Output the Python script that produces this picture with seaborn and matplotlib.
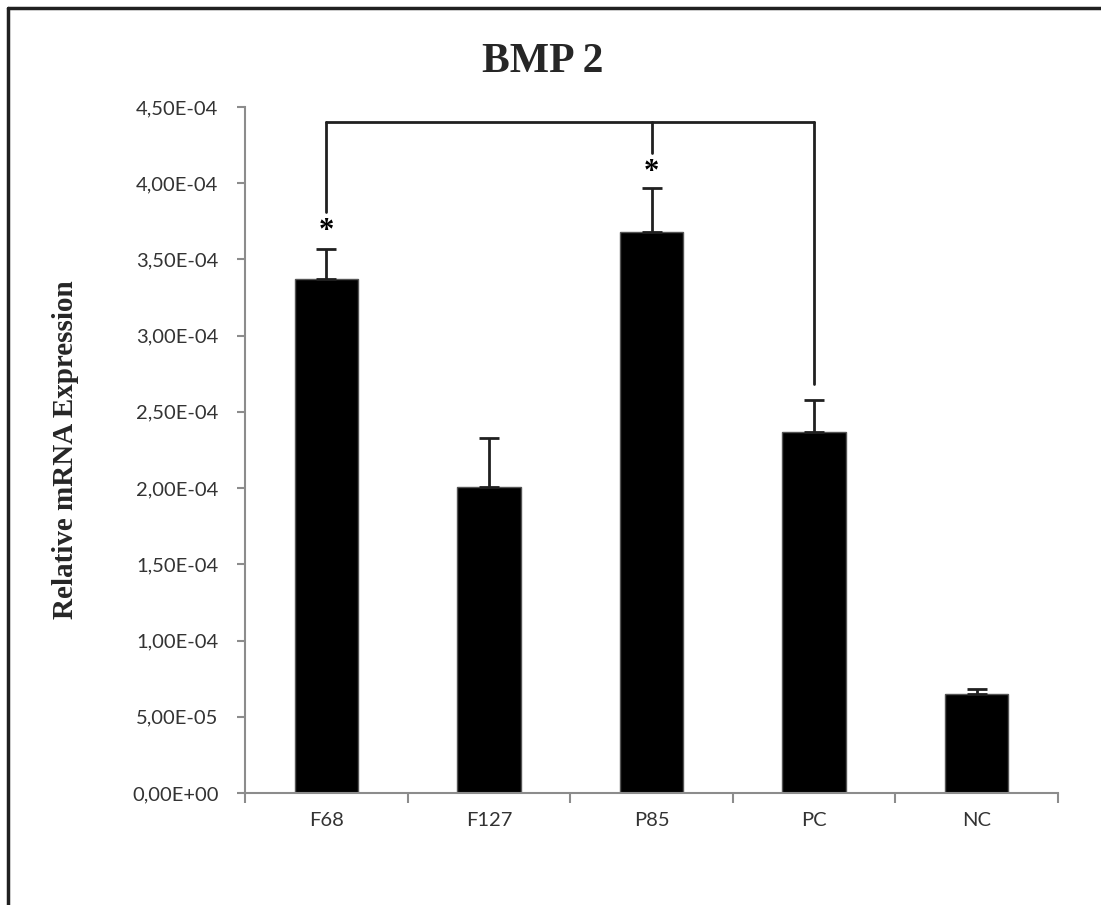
import matplotlib
matplotlib.use("Agg")
import matplotlib.pyplot as plt
import seaborn as sns
import pandas as pd
from matplotlib.lines import Line2D

# Relative BMP 2 mRNA expression per treatment group
groups = ["F68", "F127", "P85", "PC", "NC"]
means = [3.37e-4, 2.01e-4, 3.68e-4, 2.37e-4, 6.5e-5]
upper_err = [0.20e-4, 0.32e-4, 0.29e-4, 0.21e-4, 0.03e-4]

y_ticks = [0, 5e-5, 1e-4, 1.5e-4, 2e-4, 2.5e-4, 3e-4, 3.5e-4, 4e-4, 4.5e-4]
y_tick_labels = ["0,00E+00", "5,00E-05", "1,00E-04", "1,50E-04", "2,00E-04",
                 "2,50E-04", "3,00E-04", "3,50E-04", "4,00E-04", "4,50E-04"]

# Significance bracket: levels of the bar, the drops and the star marks
bracket_level = 4.40e-4
bracket_from = "F68"
bracket_to = "PC"
bracket_drops = {"F68": 3.81e-4, "P85": 4.20e-4, "PC": 2.68e-4}
star_levels = {"F68": 3.68e-4, "P85": 4.07e-4}

df = pd.DataFrame({"group": groups, "value": means})

sns.set_theme(style="white")
plt.rcParams["font.family"] = ["Lato", "DejaVu Sans"]

fig = plt.figure(figsize=(11.01, 9.05), dpi=100)
ax = fig.add_axes([0.2225, 0.1238, 0.7385, 0.758])

sns.barplot(data=df, x="group", y="value", order=groups, color="black",
            width=0.39, errorbar=None, edgecolor="#555555", linewidth=1,
            saturation=1, ax=ax)

xpos = list(range(len(groups)))
ax.errorbar(xpos, means, yerr=[[0] * len(groups), upper_err], fmt="none",
            ecolor="#202020", elinewidth=2, capsize=7, capthick=2)

ax.set_xlim(-0.5, len(groups) - 0.5)
ax.set_ylim(0, 4.5e-4)
ax.set_yticks(y_ticks)
ax.set_yticklabels(y_tick_labels)
ax.set_xlabel("")
ax.set_ylabel("Relative mRNA Expression", family=["Liberation Serif"],
              fontweight="bold", fontsize=21, labelpad=38)

for side in ("top", "right"):
    ax.spines[side].set_visible(False)
for side in ("left", "bottom"):
    ax.spines[side].set_color("#8c8c8c")
    ax.spines[side].set_linewidth(1.5)

ax.tick_params(axis="y", which="major", direction="out", length=6, width=1.5,
               color="#8c8c8c", labelsize=14.5, labelcolor="#333333", pad=13, left=True)
ax.set_xticks([x - 0.5 for x in range(len(groups) + 1)], minor=True)
ax.tick_params(axis="x", which="minor", direction="out", length=7, width=1.5,
               color="#8c8c8c", bottom=True)
ax.tick_params(axis="x", which="major", length=0, labelsize=14.5,
               labelcolor="#333333", pad=14)

# Bracket connecting the compared groups
i0, i1 = groups.index(bracket_from), groups.index(bracket_to)
ax.plot([i0, i1], [bracket_level, bracket_level], color="#202020", lw=2)
for g, lvl in bracket_drops.items():
    i = groups.index(g)
    ax.plot([i, i], [lvl, bracket_level], color="#202020", lw=2)
for g, lvl in star_levels.items():
    ax.text(groups.index(g), lvl, "*", ha="center", va="center",
            fontsize=22, fontweight="bold", family=["Liberation Serif"], color="black")

fig.text(0.493, 0.9315, "BMP 2", ha="center", va="center",
         family=["Liberation Serif"], fontweight="bold", fontsize=30)

# Outer frame: top and left borders, running off the right and bottom edges
fx = 8 / 1101
fy = 1 - 8 / 905
fig.lines.append(Line2D([fx, 1.0], [fy, fy], transform=fig.transFigure,
                        color="#202020", linewidth=2.5))
fig.lines.append(Line2D([fx, fx], [0.0, fy], transform=fig.transFigure,
                        color="#202020", linewidth=2.5))

fig.savefig("out.png", dpi=100, facecolor="white")
